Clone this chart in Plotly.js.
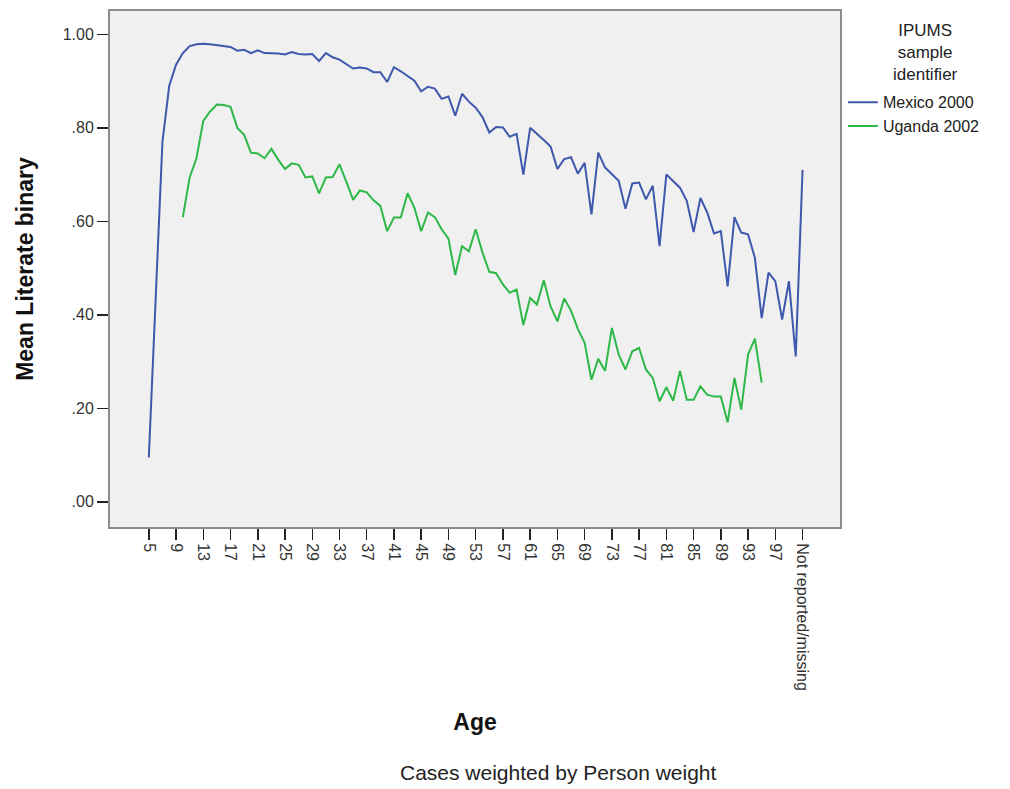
<!DOCTYPE html>
<html>
<head>
<meta charset="utf-8">
<script src="https://cdn.plot.ly/plotly-3.0.1.min.js"></script>
<style>
  html, body { margin: 0; padding: 0; background: #ffffff; }
  #chart { width: 1010px; height: 789px; }
</style>
</head>
<body>
<div id="chart"></div>
<script>
// Age categories (x axis)
const categories = [
  '5','6','7','8','9','10','11','12','13','14','15','16','17','18','19','20',
  '21','22','23','24','25','26','27','28','29','30','31','32','33','34','35','36',
  '37','38','39','40','41','42','43','44','45','46','47','48','49','50','51','52',
  '53','54','55','56','57','58','59','60','61','62','63','64','65','66','67','68',
  '69','70','71','72','73','74','75','76','77','78','79','80','81','82','83','84',
  '85','86','87','88','89','90','91','92','93','94','95','96','97','98','99','100',
  'Not reported/missing'
];

// Tick labels shown on the x axis
const tickLabels = [
  '5','9','13','17','21','25','29','33','37','41','45','49','53','57','61','65',
  '69','73','77','81','85','89','93','97','Not reported/missing'
];

// Mean Literate binary, Mexico 2000 (ages 5..100, then missing)
const mexico2000 = [
  0.095, 0.43, 0.77, 0.89, 0.935, 0.96, 0.975, 0.979, 0.98, 0.979,
  0.977, 0.976, 0.973, 0.965, 0.967, 0.96, 0.966, 0.96, 0.96, 0.959,
  0.957, 0.962, 0.958, 0.957, 0.958, 0.943, 0.96, 0.951, 0.946, 0.937,
  0.927, 0.929, 0.927, 0.919, 0.919, 0.898, 0.93, 0.921, 0.911, 0.901,
  0.878, 0.888, 0.884, 0.862, 0.867, 0.826, 0.873, 0.856, 0.843, 0.823,
  0.79, 0.802, 0.801, 0.781, 0.787, 0.70, 0.80, 0.788, 0.774, 0.76,
  0.712, 0.733, 0.737, 0.702, 0.725, 0.615, 0.747, 0.715, 0.702, 0.687,
  0.627, 0.681, 0.683, 0.647, 0.676, 0.547, 0.70, 0.687, 0.672, 0.644,
  0.577, 0.65, 0.619, 0.574, 0.579, 0.461, 0.609, 0.576, 0.572, 0.522,
  0.393, 0.49, 0.472, 0.39, 0.472, 0.311,
  0.71
];

// Ages covered by Uganda 2002 (10..95)
const ugandaAges = [
  '10','11','12','13','14','15','16','17','18','19','20','21','22','23','24','25',
  '26','27','28','29','30','31','32','33','34','35','36','37','38','39','40','41',
  '42','43','44','45','46','47','48','49','50','51','52','53','54','55','56','57',
  '58','59','60','61','62','63','64','65','66','67','68','69','70','71','72','73',
  '74','75','76','77','78','79','80','81','82','83','84','85','86','87','88','89',
  '90','91','92','93','94','95'
];

// Mean Literate binary, Uganda 2002
const uganda2002 = [
  0.609, 0.694, 0.735, 0.815, 0.835, 0.85, 0.849, 0.845, 0.80, 0.785,
  0.747, 0.745, 0.735, 0.755, 0.732, 0.712, 0.724, 0.721, 0.694, 0.696,
  0.66, 0.694, 0.695, 0.722, 0.685, 0.646, 0.666, 0.662, 0.645, 0.633,
  0.579, 0.608, 0.608, 0.66, 0.629, 0.579, 0.619, 0.609, 0.583, 0.563,
  0.485, 0.547, 0.536, 0.583, 0.533, 0.492, 0.489, 0.465, 0.447, 0.454,
  0.378, 0.436, 0.422, 0.474, 0.418, 0.386, 0.435, 0.409, 0.37, 0.34,
  0.261, 0.306, 0.28, 0.372, 0.315, 0.283, 0.322, 0.329, 0.283, 0.265,
  0.215, 0.245, 0.216, 0.28, 0.218, 0.218, 0.247, 0.229, 0.225, 0.225,
  0.17, 0.265, 0.197, 0.315, 0.349, 0.255
];

const yTickVals = [0, 0.2, 0.4, 0.6, 0.8, 1.0];
const yTickText = ['.00', '.20', '.40', '.60', '.80', '1.00'];

const FONT = 'Arial, "Liberation Sans", Helvetica, sans-serif';

const traces = [
  {
    type: 'scatter', mode: 'lines', name: 'Mexico 2000',
    x: categories, y: mexico2000,
    line: { color: '#3e58ac', width: 2 }
  },
  {
    type: 'scatter', mode: 'lines', name: 'Uganda 2002',
    x: ugandaAges, y: uganda2002,
    line: { color: '#2eb848', width: 2 }
  }
];

const layout = {
  width: 1010, height: 789,
  margin: { l: 110, r: 170, t: 11, b: 262, pad: 0 },
  paper_bgcolor: '#ffffff',
  plot_bgcolor: '#f0f0f0',
  font: { family: FONT, color: '#222' },
  showlegend: true,
  legend: {
    x: 1.004, xanchor: 'left', y: 0.856, yanchor: 'top',
    font: { family: FONT, size: 16, color: '#222' },
    bgcolor: 'rgba(0,0,0,0)', borderwidth: 0, tracegroupgap: 0
  },
  xaxis: {
    type: 'category',
    categoryorder: 'array', categoryarray: categories,
    range: [-5.7, 101.5],
    tickmode: 'array', tickvals: tickLabels, ticktext: tickLabels,
    tickangle: 90,
    tickfont: { family: FONT, size: 16, color: '#333' },
    ticks: 'outside', ticklen: 11, tickwidth: 1.5, tickcolor: '#222',
    showgrid: false, zeroline: false,
    showline: true, mirror: true, linecolor: '#8c8c8c', linewidth: 2,
    title: { text: '<b>Age</b>', font: { family: FONT, size: 23, color: '#111' }, standoff: 24 },
    automargin: false, fixedrange: true
  },
  yaxis: {
    range: [-0.054, 1.05],
    tickmode: 'array', tickvals: yTickVals, ticktext: yTickText,
    tickfont: { family: FONT, size: 16, color: '#333' },
    ticks: 'outside', ticklen: 11, tickwidth: 1.5, tickcolor: '#222',
    showgrid: false, zeroline: false,
    showline: true, mirror: true, linecolor: '#8c8c8c', linewidth: 2,
    title: { text: '<b>Mean Literate binary</b>', font: { family: FONT, size: 23, color: '#111' }, standoff: 23 },
    automargin: false, fixedrange: true
  },
  annotations: [
    {
      text: 'IPUMS<br>sample<br>identifier',
      xref: 'paper', yref: 'paper', x: 1.1178, y: 0.9205,
      xanchor: 'center', yanchor: 'middle', align: 'center',
      showarrow: false,
      font: { family: FONT, size: 17, color: '#222' }
    },
    {
      text: 'Cases weighted by Person weight',
      xref: 'paper', yref: 'paper', x: 0.6137, y: -0.475,
      xanchor: 'center', yanchor: 'middle',
      showarrow: false,
      font: { family: FONT, size: 21, color: '#222' }
    }
  ]
};

Plotly.newPlot('chart', traces, layout, { displayModeBar: false, staticPlot: true });
</script>
</body>
</html>
